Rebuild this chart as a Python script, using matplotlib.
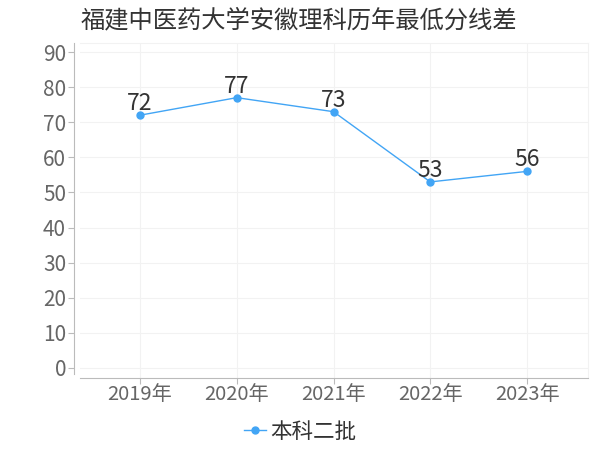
import matplotlib
matplotlib.use("Agg")
import matplotlib.pyplot as plt

plt.rcParams['font.family'] = ['Noto Sans CJK SC', 'DejaVu Sans']

title = "福建中医药大学安徽理科历年最低分线差"
years = ["2019年", "2020年", "2021年", "2022年", "2023年"]
scores = [72, 77, 73, 53, 56]
series_name = "本科二批"
y_ticks = [0, 10, 20, 30, 40, 50, 60, 70, 80, 90]

line_color = "#42a5f5"
grid_color = "#f2f2f2"

fig = plt.figure(figsize=(6, 4.5), dpi=100)
ax = fig.add_axes([0.1333, 0.16, 0.8467, 0.7444])

x = list(range(len(years)))
ax.plot(x, scores, color=line_color, lw=1.0, marker="o", ms=5,
        label=series_name, zorder=3)
for xi, v in zip(x, scores):
    ax.annotate(str(v), (xi, v), xytext=(0, 0), textcoords="offset points",
                ha="center", va="bottom", fontsize=16.5, color="#333333")

ax.set_xlim(-0.62, 4.63)
ax.set_ylim(-2.85, 92.56)
ax.set_xticks(x)
ax.set_xticklabels(years)
ax.set_yticks(y_ticks)

ax.grid(True, color=grid_color, lw=0.8)
ax.set_axisbelow(True)

for s in ["top", "right"]:
    ax.spines[s].set_color(grid_color)
ax.spines["left"].set_color("#bbbbbb")
ax.spines["left"].set_position(("outward", 4))
ax.spines["left"].set_bounds(-1.7, 92.56)
ax.spines["bottom"].set_color("#bbbbbb")

ax.tick_params(axis="y", length=4, color="#bbbbbb", labelsize=15,
               labelcolor="#666666", pad=2)
ax.tick_params(axis="x", length=4, color="#bbbbbb", labelsize=14.5,
               labelcolor="#666666", pad=0)

fig.text(0.498, 0.955, title, ha="center", va="center", fontsize=17.5,
         color="#333333")

fig.legend(loc="center", bbox_to_anchor=(0.5, 0.04), frameon=False,
           fontsize=15.5, handlelength=1.0, handletextpad=0.2,
           labelcolor="#333333", markerscale=1.0)

fig.savefig("out.png", dpi=100)
